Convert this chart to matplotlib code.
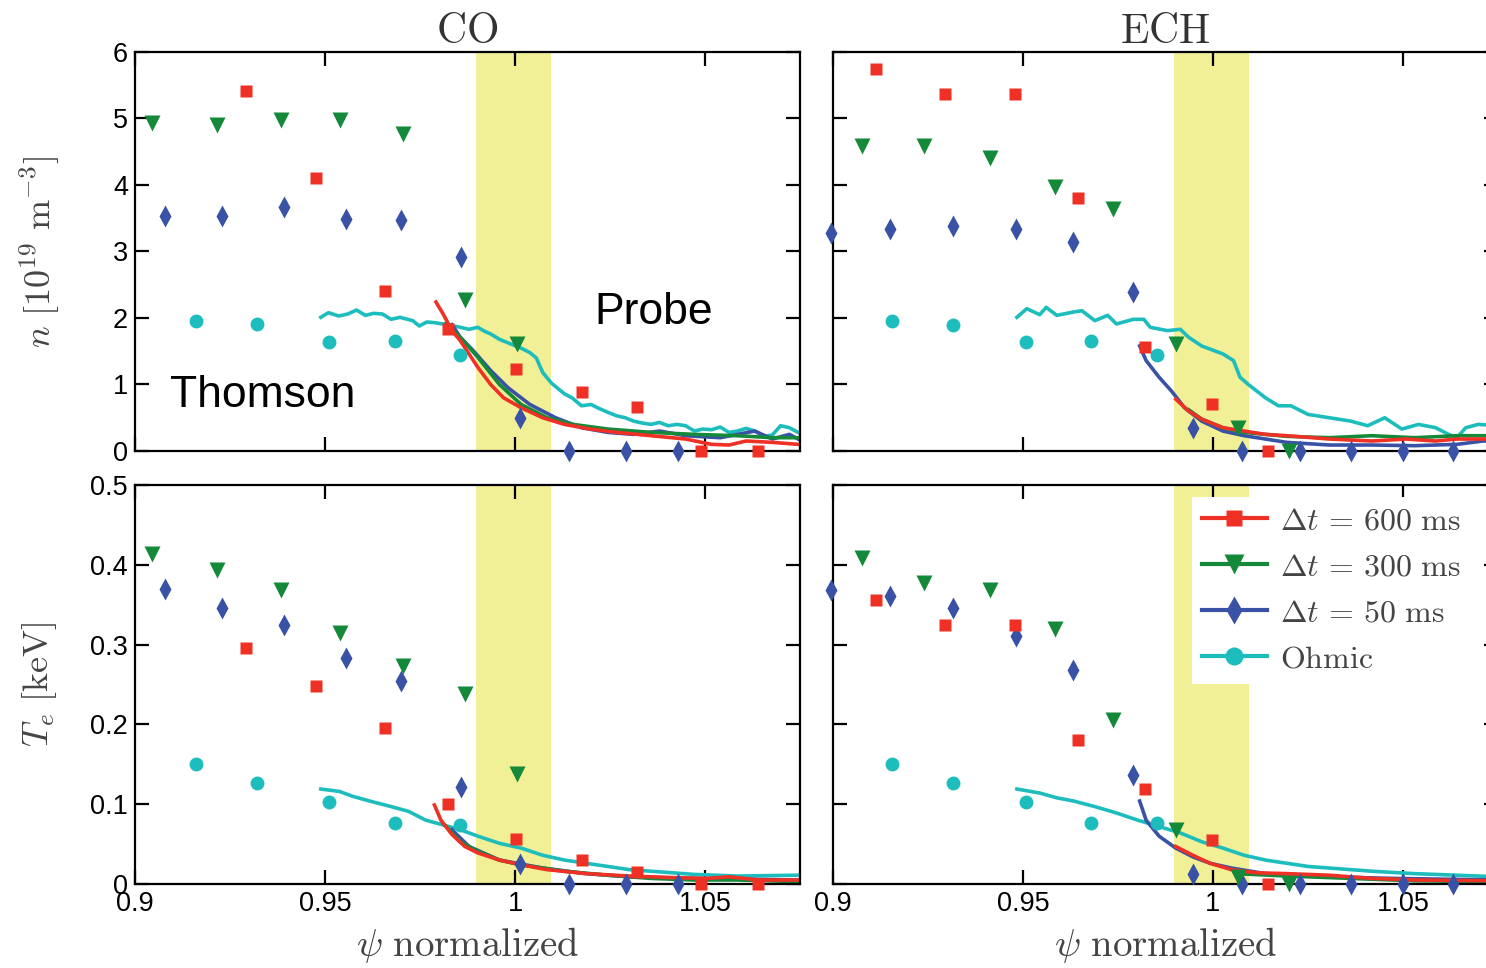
import numpy as np
import matplotlib
matplotlib.use('Agg')
import matplotlib.pyplot as plt
from matplotlib.lines import Line2D

plt.rcParams['mathtext.fontset'] = 'cm'
plt.rcParams['font.family'] = ['Liberation Sans', 'DejaVu Sans']

# Thomson scattering points, CO column (x shared between n and Te)
co_x_600 = [0.9293, 0.9477, 0.9659, 0.9824, 1.0002, 1.0177, 1.0321, 1.0490, 1.0640]
co_n_600 = [5.42, 4.11, 2.41, 1.83, 1.23, 0.89, 0.66, 0.0, 0.0]
co_te_600 = [0.296, 0.248, 0.195, 0.100, 0.056, 0.030, 0.015, 0.0, 0.0]
co_x_300 = [0.9044, 0.9215, 0.9384, 0.9539, 0.9705, 0.9868, 1.0005]
co_n_300 = [4.93, 4.90, 4.97, 4.97, 4.77, 2.27, 1.61]
co_te_300 = [0.414, 0.394, 0.368, 0.315, 0.273, 0.238, 0.138]
co_x_50 = [0.9079, 0.9230, 0.9393, 0.9554, 0.9700, 0.9858, 1.0013, 1.0142, 1.0292, 1.0428]
co_n_50 = [3.54, 3.54, 3.67, 3.49, 3.48, 2.92, 0.50, 0.0, 0.0, 0.0]
co_te_50 = [0.370, 0.346, 0.325, 0.283, 0.254, 0.122, 0.025, 0.0, 0.0, 0.0]
co_x_oh = [0.9160, 0.9321, 0.9510, 0.9683, 0.9855]
co_n_oh = [1.96, 1.91, 1.64, 1.66, 1.44]
co_te_oh = [0.151, 0.126, 0.103, 0.077, 0.074]

# Thomson scattering points, ECH column
ech_x_600 = [0.9112, 0.9295, 0.9478, 0.9644, 0.9821, 0.9998, 1.0145]
ech_n_600 = [5.74, 5.37, 5.37, 3.81, 1.56, 0.71, 0.0]
ech_te_600 = [0.356, 0.325, 0.325, 0.181, 0.119, 0.055, 0.0]
ech_x_300 = [0.9077, 0.9239, 0.9413, 0.9583, 0.9738, 0.9902, 1.0067, 1.0200]
ech_n_300 = [4.58, 4.58, 4.40, 3.97, 3.64, 1.61, 0.35, 0.0]
ech_te_300 = [0.408, 0.377, 0.368, 0.319, 0.206, 0.068, 0.009, 0.0]
ech_x_50 = [0.8994, 0.9151, 0.9317, 0.9482, 0.9631, 0.9790, 0.9947, 1.0077, 1.0228, 1.0364, 1.0499, 1.0631]
ech_n_50 = [3.28, 3.34, 3.39, 3.34, 3.14, 2.39, 0.35, 0.0, 0.0, 0.0, 0.0, 0.0]
ech_te_50 = [0.368, 0.361, 0.346, 0.311, 0.268, 0.136, 0.013, 0.0, 0.0, 0.0, 0.0, 0.0]
ech_x_oh = [0.9155, 0.9317, 0.9507, 0.9680, 0.9852]
ech_n_oh = [1.96, 1.90, 1.64, 1.66, 1.45]
ech_te_oh = [0.151, 0.126, 0.103, 0.077, 0.076]

# probe profiles, CO density
co_pn_oh_x = [0.9489, 0.9509, 0.9536, 0.9560, 0.9583, 0.9606, 0.9628, 0.9651, 0.9674, 0.9697,
              0.9731, 0.9748, 0.9768, 0.9788, 0.9822, 0.9856, 0.9879, 0.9902, 0.9920, 0.9936,
              0.9959, 0.9993, 1.0015, 1.0039, 1.0056, 1.0073, 1.0096, 1.0130, 1.0150, 1.0175,
              1.0200, 1.0221, 1.0245, 1.0267, 1.0290, 1.0312, 1.0335, 1.0358, 1.0380, 1.0403,
              1.0426, 1.0449, 1.0472, 1.0494, 1.0517, 1.0540, 1.0563, 1.0585, 1.0608, 1.0631,
              1.0654, 1.0677, 1.0699, 1.0722, 1.0745]
co_pn_oh_y = [2.01, 2.08, 2.03, 2.06, 2.12, 2.04, 2.07, 2.06, 1.98, 2.01,
              1.96, 1.88, 1.94, 1.93, 1.90, 1.86, 1.83, 1.86, 1.80, 1.76,
              1.68, 1.60, 1.55, 1.48, 1.40, 1.18, 1.02, 0.86, 0.80, 0.68,
              0.70, 0.64, 0.58, 0.53, 0.50, 0.45, 0.42, 0.40, 0.43, 0.38,
              0.40, 0.38, 0.30, 0.33, 0.32, 0.36, 0.28, 0.30, 0.34, 0.30,
              0.22, 0.24, 0.38, 0.35, 0.28]
co_pn_600_x = [0.9792, 0.9811, 0.9834, 0.9856, 0.9879, 0.9902, 0.9936, 0.9970, 1.0016, 1.0073,
               1.0130, 1.0198, 1.0267, 1.0358, 1.0449, 1.0517, 1.0563, 1.0608, 1.0677, 1.0745]
co_pn_600_y = [2.24, 2.06, 1.81, 1.66, 1.46, 1.26, 1.00, 0.80, 0.65, 0.50,
               0.40, 0.33, 0.28, 0.23, 0.18, 0.10, 0.09, 0.15, 0.13, 0.10]
co_pn_300_x = [0.9817, 0.9856, 0.9902, 0.9959, 1.0016, 1.0084, 1.0153, 1.0244, 1.0358, 1.0472,
               1.0585, 1.0677, 1.0745]
co_pn_300_y = [1.91, 1.71, 1.41, 1.00, 0.70, 0.50, 0.40, 0.33, 0.28, 0.25, 0.23, 0.20, 0.20]
co_pn_50_x = [0.9834, 0.9856, 0.9890, 0.9936, 0.9982, 1.0039, 1.0107, 1.0175, 1.0244, 1.0312,
              1.0381, 1.0449, 1.0540, 1.0631, 1.0677, 1.0722, 1.0745]
co_pn_50_y = [1.90, 1.71, 1.51, 1.21, 0.95, 0.70, 0.50, 0.35, 0.28, 0.25,
              0.30, 0.23, 0.20, 0.30, 0.18, 0.25, 0.18]

# probe profiles, ECH density
ech_pn_oh_x = [0.9484, 0.9510, 0.9544, 0.9561, 0.9589, 0.9633, 0.9655, 0.9689, 0.9723, 0.9746,
               0.9790, 0.9818, 0.9835, 0.9880, 0.9914, 0.9936, 0.9970, 1.0026, 1.0054, 1.0071,
               1.0093, 1.0138, 1.0172, 1.0205, 1.0250, 1.0306, 1.0362, 1.0407, 1.0452, 1.0497,
               1.0541, 1.0586, 1.0620, 1.0642, 1.0665, 1.0698, 1.0750]
ech_pn_oh_y = [2.01, 2.14, 2.05, 2.16, 2.04, 2.09, 2.11, 1.96, 2.04, 1.91,
               1.98, 1.98, 1.86, 1.81, 1.83, 1.71, 1.58, 1.46, 1.36, 1.11,
               1.00, 0.80, 0.68, 0.68, 0.55, 0.50, 0.45, 0.38, 0.50, 0.33,
               0.40, 0.35, 0.25, 0.20, 0.35, 0.40, 0.38]
ech_pn_600_x = [0.9902, 0.9936, 0.9970, 1.0026, 1.0082, 1.0138, 1.0194, 1.0306, 1.0418, 1.0508,
                1.0586, 1.0642, 1.0750]
ech_pn_600_y = [0.78, 0.60, 0.48, 0.35, 0.30, 0.25, 0.23, 0.18, 0.15, 0.18, 0.15, 0.18, 0.18]
ech_pn_300_x = [0.9936, 0.9970, 1.0026, 1.0082, 1.0194, 1.0306, 1.0418, 1.0530, 1.0642, 1.0750]
ech_pn_300_y = [0.62, 0.48, 0.35, 0.28, 0.22, 0.20, 0.23, 0.20, 0.23, 0.23]
ech_pn_50_x = [0.9807, 0.9824, 0.9858, 0.9891, 0.9925, 0.9970, 1.0026, 1.0082, 1.0138, 1.0194,
               1.0306, 1.0418, 1.0530, 1.0642, 1.0710, 1.0750]
ech_pn_50_y = [1.58, 1.36, 1.11, 0.90, 0.65, 0.45, 0.30, 0.23, 0.18, 0.13,
               0.09, 0.09, 0.08, 0.10, 0.15, 0.15]

# probe profiles, CO temperature
co_pt_oh_x = [0.9489, 0.9538, 0.9572, 0.9617, 0.9674, 0.9720, 0.9765, 0.9811, 0.9856, 0.9902,
              0.9959, 1.0016, 1.0073, 1.0130, 1.0187, 1.0244, 1.0301, 1.0358, 1.0472, 1.0585, 1.0745]
co_pt_oh_y = [0.119, 0.116, 0.110, 0.104, 0.097, 0.091, 0.080, 0.074, 0.068, 0.060,
              0.051, 0.045, 0.036, 0.030, 0.026, 0.022, 0.018, 0.016, 0.012, 0.010, 0.011]
co_pt_600_x = [0.9788, 0.9805, 0.9834, 0.9868, 0.9902, 0.9959, 1.0016, 1.0084, 1.0187, 1.0301,
               1.0415, 1.0506, 1.0563, 1.0642, 1.0745]
co_pt_600_y = [0.099, 0.080, 0.062, 0.047, 0.039, 0.030, 0.024, 0.018, 0.013, 0.010,
               0.008, 0.007, 0.009, 0.005, 0.005]
co_pt_300_x = [0.9811, 0.9856, 0.9902, 0.9959, 1.0016, 1.0130, 1.0244, 1.0358, 1.0472, 1.0585, 1.0745]
co_pt_300_y = [0.076, 0.053, 0.041, 0.030, 0.024, 0.016, 0.011, 0.007, 0.005, 0.005, 0.003]
co_pt_50_x = [0.9834, 0.9879, 0.9959, 1.0073, 1.0187, 1.0301, 1.0472, 1.0745]
co_pt_50_y = [0.068, 0.047, 0.030, 0.020, 0.013, 0.009, 0.007, 0.005]

# probe profiles, ECH temperature
ech_pt_oh_x = [0.9484, 0.9544, 0.9589, 0.9633, 0.9689, 0.9746, 0.9802, 0.9858, 0.9914, 0.9970,
               1.0026, 1.0082, 1.0138, 1.0194, 1.0250, 1.0306, 1.0418, 1.0530, 1.0642, 1.0750]
ech_pt_oh_y = [0.119, 0.114, 0.108, 0.104, 0.097, 0.089, 0.080, 0.072, 0.064, 0.053,
               0.045, 0.036, 0.030, 0.026, 0.022, 0.020, 0.016, 0.013, 0.011, 0.009]
ech_pt_600_x = [0.9902, 0.9947, 0.9992, 1.0048, 1.0116, 1.0194, 1.0306, 1.0418, 1.0530, 1.0750]
ech_pt_600_y = [0.047, 0.036, 0.026, 0.018, 0.014, 0.013, 0.011, 0.007, 0.005, 0.004]
ech_pt_300_x = [1.0059, 1.0194, 1.0362, 1.0530, 1.0750]
ech_pt_300_y = [0.013, 0.010, 0.007, 0.004, 0.003]
ech_pt_50_x = [0.9807, 0.9824, 0.9858, 0.9902, 0.9947, 0.9992, 1.0048, 1.0138, 1.0306, 1.0474, 1.0750]
ech_pt_50_y = [0.104, 0.080, 0.060, 0.045, 0.034, 0.026, 0.020, 0.013, 0.009, 0.007, 0.005]

labels = [r'$\Delta t\,=\,600\ \mathrm{ms}$', r'$\Delta t\,=\,300\ \mathrm{ms}$',
          r'$\Delta t\,=\,50\ \mathrm{ms}$', r'$\mathrm{Ohmic}$']
colors = ['#ee3124', '#15893a', '#3a52a6', '#1dbdbd']
markers = ['s', 'v', 'd', 'o']
msizes = [8.5, 11, 11, 10]
band = (0.9898, 1.0095)
xticks = [0.9, 0.95, 1.0, 1.05]
xticklabels = ['0.9', '0.95', '1', '1.05']

W, H = 1486, 968
fig = plt.figure(figsize=(W / 100, H / 100), dpi=100)

def make_ax(left, top):
    return fig.add_axes([left / W, 1 - (top + 399) / H, 665 / W, 399 / H])

ax_cn = make_ax(135, 52)
ax_en = make_ax(833, 52)
ax_ct = make_ax(135, 485)
ax_et = make_ax(833, 485)

def draw(ax, thomson, probes):
    ax.axvspan(band[0], band[1], color='#f2f096', lw=0, zorder=0)
    # lines: ohmic first, 600 ms last (on top)
    for i in [3, 2, 1, 0]:
        px, py = probes[i]
        ax.plot(px, py, color=colors[i], lw=2.6, zorder=2)
    for i in [3, 2, 1, 0]:
        tx, ty = thomson[i]
        ax.plot(tx, ty, ls='none', marker=markers[i], ms=msizes[i], color=colors[i],
                mec='none', zorder=3, clip_on=False)
    ax.set_xlim(0.9, 1.075)
    ax.tick_params(direction='in', length=10, width=1.6, top=True, right=True,
                   labelsize=19.5, pad=5)
    ax.set_xticks(xticks)
    for s in ax.spines.values():
        s.set_linewidth(1.6)

draw(ax_cn, [(co_x_600, co_n_600), (co_x_300, co_n_300), (co_x_50, co_n_50), (co_x_oh, co_n_oh)],
     [(co_pn_600_x, co_pn_600_y), (co_pn_300_x, co_pn_300_y), (co_pn_50_x, co_pn_50_y), (co_pn_oh_x, co_pn_oh_y)])
draw(ax_en, [(ech_x_600, ech_n_600), (ech_x_300, ech_n_300), (ech_x_50, ech_n_50), (ech_x_oh, ech_n_oh)],
     [(ech_pn_600_x, ech_pn_600_y), (ech_pn_300_x, ech_pn_300_y), (ech_pn_50_x, ech_pn_50_y), (ech_pn_oh_x, ech_pn_oh_y)])
draw(ax_ct, [(co_x_600, co_te_600), (co_x_300, co_te_300), (co_x_50, co_te_50), (co_x_oh, co_te_oh)],
     [(co_pt_600_x, co_pt_600_y), (co_pt_300_x, co_pt_300_y), (co_pt_50_x, co_pt_50_y), (co_pt_oh_x, co_pt_oh_y)])
draw(ax_et, [(ech_x_600, ech_te_600), (ech_x_300, ech_te_300), (ech_x_50, ech_te_50), (ech_x_oh, ech_te_oh)],
     [(ech_pt_600_x, ech_pt_600_y), (ech_pt_300_x, ech_pt_300_y), (ech_pt_50_x, ech_pt_50_y), (ech_pt_oh_x, ech_pt_oh_y)])

for ax in [ax_cn, ax_en]:
    ax.set_ylim(0, 6)
    ax.set_yticks(range(7))
    ax.set_xticklabels([])
for ax in [ax_ct, ax_et]:
    ax.set_ylim(0, 0.5)
    ax.set_yticks([0, 0.1, 0.2, 0.3, 0.4, 0.5])
    ax.set_yticklabels(['0', '0.1', '0.2', '0.3', '0.4', '0.5'])
    ax.set_xticklabels(xticklabels)
    ax.set_xlabel(r'$\psi\ \mathrm{normalized}$', fontsize=28, color='#444444', va='center')
    ax.xaxis.set_label_coords(0.5, -0.152)
for ax in [ax_en, ax_et]:
    ax.set_yticklabels([])

ax_cn.set_ylabel(r'$n\ [10^{19}\ \mathrm{m}^{-3}]$', fontsize=26, color='#444444', va='center')
ax_cn.yaxis.set_label_coords(-0.143, 0.5)
ax_ct.set_ylabel(r'$T_e\ [\mathrm{keV}]$', fontsize=26, color='#444444', va='center')
ax_ct.yaxis.set_label_coords(-0.143, 0.5)

ax_cn.set_title(r'$\mathrm{CO}$', fontsize=30, color='#333333', pad=6)
ax_en.set_title(r'$\mathrm{ECH}$', fontsize=30, color='#333333', pad=6)

ax_cn.text(0.9092, 0.83, 'Thomson', fontsize=32, va='center', ha='left')
ax_cn.text(1.021, 2.09, 'Probe', fontsize=32, va='center', ha='left')

handles = [Line2D([], [], color=colors[i], lw=3, marker=markers[i], ms=msizes[i] + 3,
                  mec='none') for i in range(4)]
leg = ax_et.legend(handles, labels, loc='upper left', bbox_to_anchor=(0.54, 0.97),
                   fontsize=23, frameon=True, fancybox=False, framealpha=1,
                   edgecolor='none', facecolor='white', borderpad=0.3, borderaxespad=0,
                   handlelength=2.05, handletextpad=0.4, labelspacing=0.5)
for t in leg.get_texts():
    t.set_color('#444444')

fig.savefig('out.png', dpi=100)
